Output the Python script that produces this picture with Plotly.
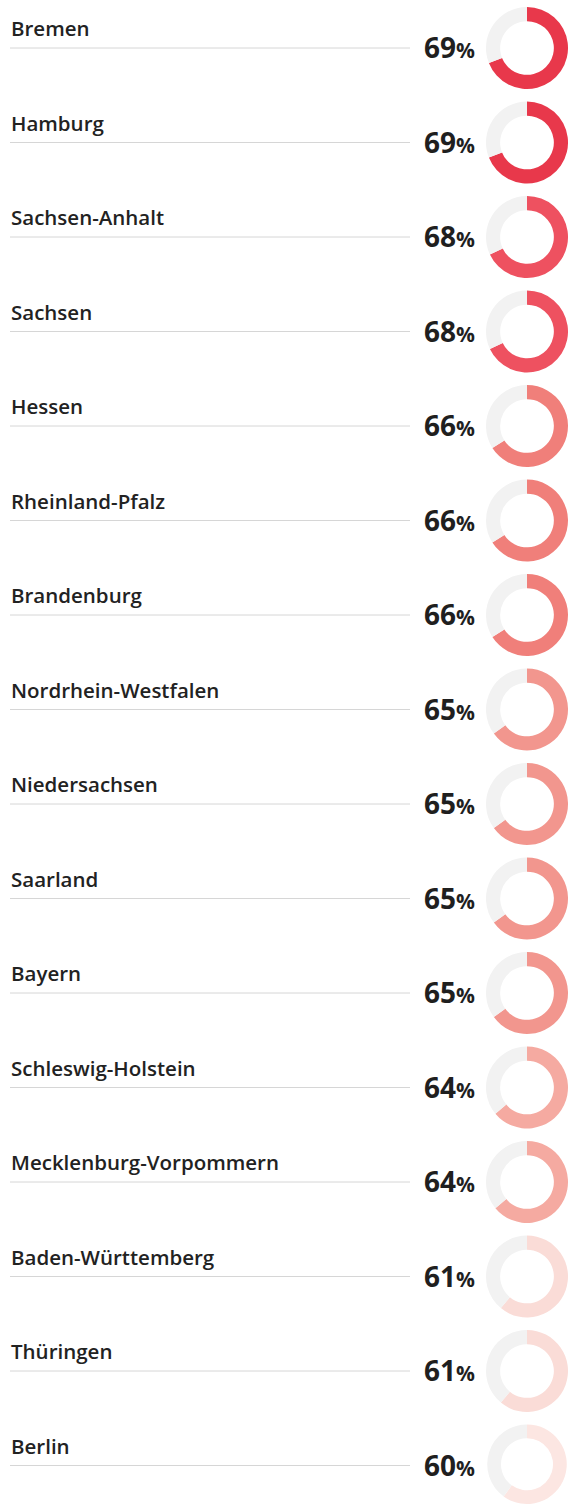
import plotly.graph_objects as go

states = ["Bremen", "Hamburg", "Sachsen-Anhalt", "Sachsen", "Hessen", "Rheinland-Pfalz",
          "Brandenburg", "Nordrhein-Westfalen", "Niedersachsen", "Saarland", "Bayern",
          "Schleswig-Holstein", "Mecklenburg-Vorpommern", "Baden-Württemberg",
          "Thüringen", "Berlin"]
shares = [69, 69, 68, 68, 66, 66, 66, 65, 65, 65, 65, 64, 64, 61, 61, 60]

# colour ramp keyed by the share value
share_colors = {69: "#e8384b", 68: "#ee5160", 66: "#f07f7a", 65: "#f2968e",
                64: "#f5aaa1", 61: "#fadcd7", 60: "#fce6e2"}
rest_color = "#f2f2f2"

W, H = 568, 1504
row_h = 94.5
top = 48
r_out = 41
cx = 527


def clamp(v):
    return max(0.0, min(1.0, v))


fig = go.Figure()
shapes, annotations = [], []

for i, (name, val) in enumerate(zip(states, shares)):
    cy = top + i * row_h
    fig.add_trace(go.Pie(
        values=[val, 100 - val],
        marker=dict(colors=[share_colors[val], rest_color], line=dict(width=0)),
        hole=0.655, sort=False, direction="clockwise", rotation=0,
        textinfo="none", hoverinfo="skip", showlegend=False,
        domain=dict(x=[clamp((cx - r_out) / W), clamp((cx + r_out) / W)],
                    y=[clamp(1 - (cy + r_out) / H), clamp(1 - (cy - r_out) / H)]),
    ))
    shapes.append(dict(type="line", xref="x", yref="y", x0=10, x1=410, y0=cy, y1=cy,
                       line=dict(color="#d6d6d6", width=1)))
    annotations.append(dict(xref="x", yref="y", x=9, y=cy - 20, xanchor="left", yanchor="middle",
                            text=name, showarrow=False,
                            font=dict(family="Open Sans", size=20.5, color="#222222", weight=600)))
    annotations.append(dict(xref="x", yref="y", x=477, y=cy - 1, xanchor="right", yanchor="middle",
                            text=f"<b>{val}<span style='font-size:21px'>%</span></b>", showarrow=False,
                            font=dict(family="Open Sans", size=28, color="#1f1f1f")))

fig.update_layout(
    width=W, height=H, margin=dict(l=0, r=0, t=0, b=0),
    paper_bgcolor="white", plot_bgcolor="white",
    xaxis=dict(range=[0, W], visible=False, fixedrange=True, domain=[0, 1]),
    yaxis=dict(range=[H, 0], visible=False, fixedrange=True, domain=[0, 1]),
    shapes=shapes, annotations=annotations,
)

fig.write_html("out.html")
